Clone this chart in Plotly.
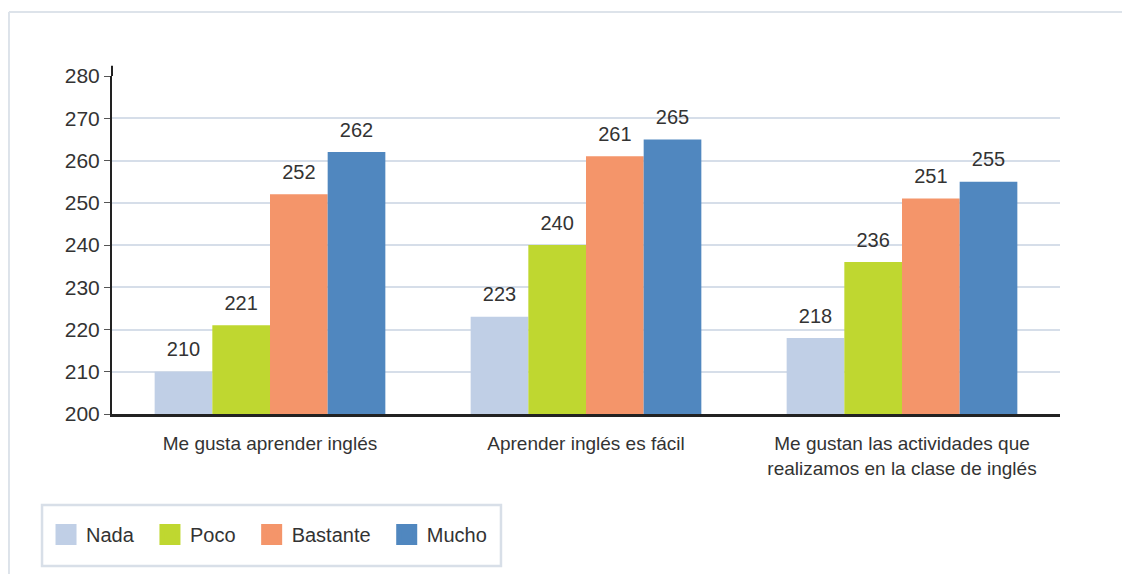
import plotly.graph_objects as go

categorias = ["Me gusta aprender inglés", "Aprender inglés es fácil",
              "Me gustan las actividades que<br>realizamos en la clase de inglés"]
series = ["Nada", "Poco", "Bastante", "Mucho"]
nada = [210, 223, 218]
poco = [221, 240, 236]
bastante = [252, 261, 251]
mucho = [262, 265, 255]
valores = [nada, poco, bastante, mucho]
colores = ["#c0cfe6", "#bfd730", "#f4956a", "#5087bf"]
y_ticks = [200, 210, 220, 230, 240, 250, 260, 270, 280]

fuente = "Liberation Sans Narrow, Arial Narrow, Liberation Sans, Arial"
gap = 0.27

fig = go.Figure()
for nombre, vals, col in zip(series, valores, colores):
    fig.add_trace(go.Bar(name=nombre, x=categorias, y=vals, marker_color=col,
                         marker_line_width=0, offsetgroup=nombre, showlegend=False))
# etiquetas de valor (puntos invisibles agrupados igual que las barras)
for nombre, vals in zip(series, valores):
    fig.add_trace(go.Scatter(x=categorias, y=vals, mode="markers+text", text=[str(v) for v in vals],
                             textposition="top center", offsetgroup=nombre,
                             marker=dict(size=15, color="rgba(0,0,0,0)"),
                             textfont=dict(size=20, color="#333333", family=fuente),
                             cliponaxis=False, showlegend=False, hoverinfo="skip"))
# entradas de leyenda (con espacio extra tras el nombre)
for nombre, col in zip(series, colores):
    fig.add_trace(go.Scatter(x=[None], y=[None], mode="markers", name=nombre + "\u00a0\u00a0",
                             marker=dict(symbol="square", size=16, color=col,
                                         line=dict(color=col, width=5))))

fig.update_layout(
    width=1122, height=566,
    margin=dict(l=104, r=70, t=68, b=160),
    barmode="group", bargap=gap, bargroupgap=0,
    scattermode="group", scattergap=gap,
    plot_bgcolor="white", paper_bgcolor="white",
    font=dict(family=fuente, size=19, color="#333333"),
    legend=dict(orientation="h", x=-0.0696, y=-0.2988, xanchor="left", yanchor="top",
                borderwidth=0, bgcolor="rgba(0,0,0,0)", font=dict(size=20),
                traceorder="normal"),
)
fig.update_yaxes(range=[200, 280], tickvals=y_ticks, showgrid=True,
                 gridcolor="#d6dee9", gridwidth=2, showline=True, linecolor="#222222",
                 linewidth=2, ticks="outside", ticklen=6, tickcolor="#555555",
                 tickfont=dict(size=21), zeroline=False)
fig.update_xaxes(showline=True, linecolor="#222222", linewidth=3,
                 tickfont=dict(size=19), ticks="", ticklabelstandoff=10)

# prolongación del eje y por encima de 280
fig.add_shape(type="line", xref="paper", yref="paper", x0=0, x1=0, y0=1, y1=1.03,
              line=dict(color="#222222", width=2))
# marco exterior y caja de la leyenda
fig.add_shape(type="line", xref="paper", yref="paper", x0=-0.1087, x1=1.1,
              y0=1.189, y1=1.189, line=dict(color="#dde3ea", width=2))
fig.add_shape(type="line", xref="paper", yref="paper", x0=-0.1087, x1=-0.1087,
              y0=1.189, y1=-0.5, line=dict(color="#dde3ea", width=2))
fig.add_shape(type="rect", xref="paper", yref="paper", x0=-0.0738, x1=0.4103,
              y0=-0.2692, y1=-0.4497, line=dict(color="#d8dfe8", width=2.5))

fig.write_html("out.html")
